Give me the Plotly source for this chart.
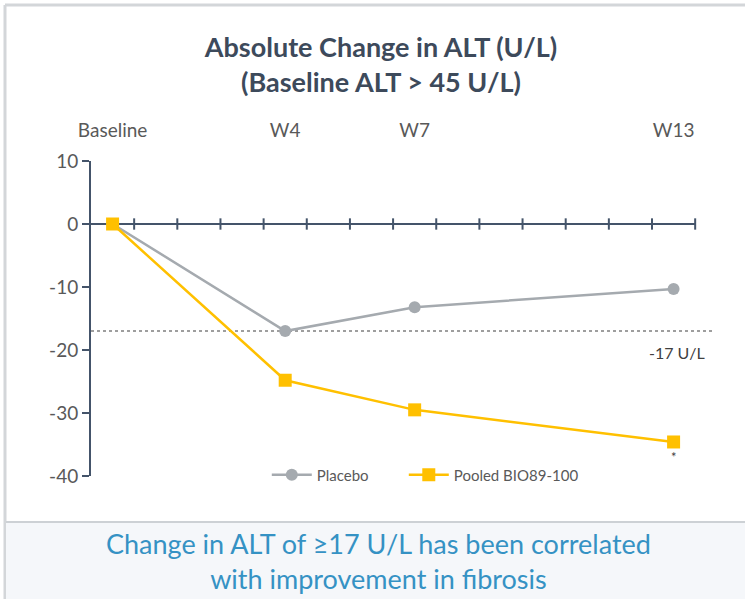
import plotly.graph_objects as go

# ---- data ----
weeks = [0, 4, 7, 13]
week_labels = ["Baseline", "W4", "W7", "W13"]
placebo = [0, -17.0, -13.2, -10.3]
bio89 = [0, -24.8, -29.5, -34.6]
threshold = -17
threshold_label = "-17 U/L"
y_ticks = [10, 0, -10, -20, -30, -40]
y_tick_text = ["10", "0", "-10", "-20", "-30", "-40"]
minor_ticks = [w + 0.5 for w in range(14)]

FONT = "Lato"
AXIS_COL = "#44546A"
TEXT_COL = "#595959"

W, H = 745, 599
L, R, T, B = 91, 33, 161, 123
pw, ph = W - L - R, H - T - B


def px(xp):
    return (xp - L) / pw


def py(yp):
    return (H - B - yp) / ph


fig = go.Figure()

fig.add_trace(go.Scatter(
    x=weeks, y=placebo, name="Placebo", mode="lines+markers",
    line=dict(color="#A5AAAF", width=2.5),
    marker=dict(symbol="circle", size=12, color="#A5AAAF"),
    legend="legend", showlegend=True,
))
fig.add_trace(go.Scatter(
    x=weeks, y=bio89, name="Pooled BIO89-100", mode="lines+markers",
    line=dict(color="#FFC000", width=2.5),
    marker=dict(symbol="square", size=13, color="#FFC000"),
    legend="legend2", showlegend=True,
))

shapes = []
# outer frame
shapes.append(dict(type="line", xref="paper", yref="paper", x0=px(5), x1=px(745), y0=py(5), y1=py(5),
                   line=dict(color="#D3D6D9", width=3), layer="below"))
shapes.append(dict(type="line", xref="paper", yref="paper", x0=px(5), x1=px(5), y0=py(5), y1=py(599),
                   line=dict(color="#D3D6D9", width=3), layer="below"))
# bottom panel
shapes.append(dict(type="rect", xref="paper", yref="paper", x0=px(6), x1=px(745), y0=py(522), y1=py(599),
                   fillcolor="#F5F7FA", line=dict(width=0), layer="below"))
shapes.append(dict(type="line", xref="paper", yref="paper", x0=px(6), x1=px(745), y0=py(522), y1=py(522),
                   line=dict(color="#CDD1D5", width=2), layer="below"))
# threshold dotted line
shapes.append(dict(type="line", xref="paper", yref="y", x0=0, x1=1, y0=threshold, y1=threshold,
                   line=dict(color="#7F7F7F", width=1.5, dash="dot"), layer="below"))
# horizontal axis at y=0 with cross ticks
shapes.append(dict(type="line", xref="x", yref="y", x0=-0.5, x1=minor_ticks[-1], y0=0, y1=0,
                   line=dict(color=AXIS_COL, width=2), layer="below"))
for t in minor_ticks:
    shapes.append(dict(type="line", xref="x", yref="y", x0=t, x1=t, y0=-0.9, y1=0.9,
                       line=dict(color=AXIS_COL, width=2), layer="below"))

annotations = [
    dict(x=weeks[-1], y=threshold, xref="x", yref="y", text=threshold_label, showarrow=False,
         yshift=-21, xshift=3, font=dict(family=FONT, size=16, color="#404040")),
    dict(x=weeks[-1], y=bio89[-1], xref="x", yref="y", text="*", showarrow=False,
         yshift=-15, font=dict(family=FONT, size=13, color="#404040")),
    dict(x=px(378), y=py(561), xref="paper", yref="paper",
         text="Change in ALT of ≥17 U/L has been correlated<br>with improvement in fibrosis",
         showarrow=False, xanchor="center", yanchor="middle",
         font=dict(family=FONT, size=27, color="#3592C4")),
]

legend_style = dict(orientation="h", xanchor="left", yanchor="middle", y=py(475),
                    font=dict(family=FONT, size=15, color=TEXT_COL), bgcolor="rgba(0,0,0,0)",
                    itemwidth=40, visible=True)

fig.update_layout(
    width=W, height=H,
    showlegend=True,
    margin=dict(l=L, r=R, t=T, b=B, pad=0),
    paper_bgcolor="white", plot_bgcolor="white",
    title=dict(text="<b>Absolute Change in ALT (U/L)<br>(Baseline ALT > 45 U/L)</b>",
               x=381 / W, xanchor="center", y=1 - 57 / H, yanchor="middle",
               font=dict(family=FONT, size=27, color="#3D4A5B")),
    xaxis=dict(range=[-0.5, 13.89], side="top", tickvals=weeks, ticktext=week_labels,
               showline=False, showgrid=False, zeroline=False,
               ticks="outside", ticklen=15, tickcolor="rgba(0,0,0,0)",
               tickfont=dict(family=FONT, size=19, color=TEXT_COL)),
    yaxis=dict(range=[-40, 10], tickvals=y_ticks, ticktext=y_tick_text,
               showgrid=False, zeroline=False,
               showline=True, linecolor=AXIS_COL, linewidth=2,
               ticks="outside", ticklen=7, tickwidth=2, tickcolor=AXIS_COL,
               tickfont=dict(family=FONT, size=19, color=TEXT_COL)),
    legend=dict(x=px(273) - 0.01, **legend_style),
    legend2=dict(x=px(410) - 0.01, **legend_style),
    shapes=shapes,
    annotations=annotations,
)

fig.write_html("out.html", config={"displayModeBar": False},
               post_script="document.body.style.margin='0px';document.body.style.overflow='hidden';")
